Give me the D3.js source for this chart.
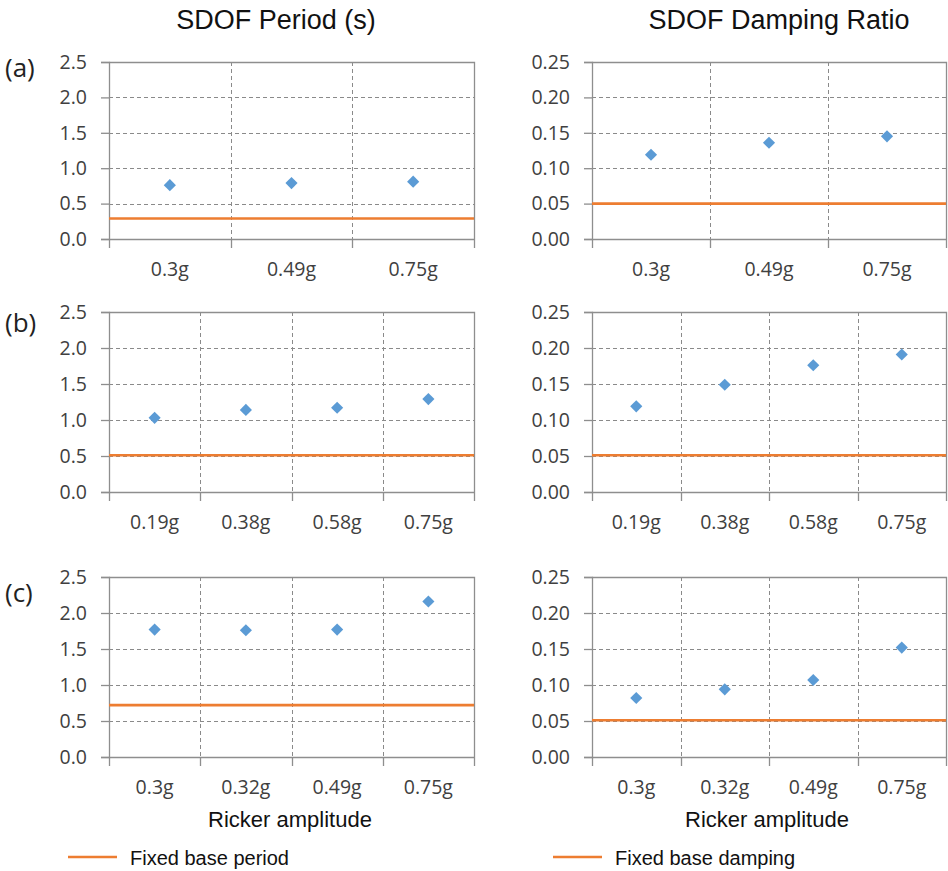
<!DOCTYPE html>
<html><head><meta charset="utf-8">
<script src="https://cdn.jsdelivr.net/npm/d3@7"></script>
<style>body{margin:0;background:#fff}svg{display:block}</style>
</head><body>
<script>
// ---- data ----
const rowLabels = ['(a)', '(b)', '(c)'];
const catsA = ['0.3g', '0.49g', '0.75g'];
const catsB = ['0.19g', '0.38g', '0.58g', '0.75g'];
const catsC = ['0.3g', '0.32g', '0.49g', '0.75g'];
const periodA = [0.76, 0.79, 0.81];
const periodB = [1.03, 1.14, 1.17, 1.29];
const periodC = [1.77, 1.76, 1.77, 2.16];
const dampA = [0.119, 0.136, 0.145];
const dampB = [0.119, 0.149, 0.176, 0.191];
const dampC = [0.082, 0.094, 0.107, 0.152];
const fixedPeriod = [0.29, 0.51, 0.72];
const fixedDamping = [0.050, 0.051, 0.051];
const periodTicks = [0, 0.5, 1.0, 1.5, 2.0, 2.5];
const dampTicks = [0, 0.05, 0.10, 0.15, 0.20, 0.25];
const colTitles = ['SDOF Period (s)', 'SDOF Damping Ratio'];
const xTitle = 'Ricker amplitude';
const legendLabels = ['Fixed base period', 'Fixed base damping'];

// ---- layout ----
const W = 948, H = 871;
const rowsTop = [62, 312, 577], rowsBot = [239, 492, 757];
const colsL = [109, 592], colsR = [474, 946];
const rowLabelY = [67, 322, 592];
const BLUE = '#5B9BD5', ORANGE = '#ED7D31', AXIS = '#8E8E8E', GRID = '#8A8A8A', TXT = '#404040';
const tickFont = '"Open Sans", sans-serif';
const titleFont = '"Liberation Sans", Arial, sans-serif';

const svg = d3.select('body').append('svg').attr('width', W).attr('height', H);

const cats = [catsA, catsB, catsC];
const periods = [periodA, periodB, periodC];
const damps = [dampA, dampB, dampC];

function panel(r, c) {
  const categories = cats[r];
  const vals = c === 0 ? periods[r] : damps[r];
  const fixed = c === 0 ? fixedPeriod[r] : fixedDamping[r];
  const ticks = c === 0 ? periodTicks : dampTicks;
  const fmt = c === 0 ? d3.format('.1f') : d3.format('.2f');
  const x = d3.scaleBand().domain(categories).range([colsL[c], colsR[c]]).paddingInner(0).paddingOuter(0);
  const y = d3.scaleLinear().domain([0, c === 0 ? 2.5 : 0.25]).range([rowsBot[r], rowsTop[r]]);
  const g = svg.append('g');
  const x0 = colsL[c], x1 = colsR[c], y0 = rowsBot[r], y1 = rowsTop[r];

  // horizontal dashed gridlines
  g.selectAll('.hg').data(ticks.filter(t => t > 0 && t < ticks[ticks.length - 1])).enter().append('line')
    .attr('x1', x0).attr('x2', x1).attr('y1', d => Math.round(y(d)) + 0.5).attr('y2', d => Math.round(y(d)) + 0.5)
    .attr('stroke', GRID).attr('stroke-dasharray', '4,3').attr('stroke-width', 1);
  // vertical dashed gridlines at category boundaries
  const bounds = categories.slice(1).map(d => x(d));
  g.selectAll('.vg').data(bounds).enter().append('line')
    .attr('x1', d => Math.round(d) + 0.5).attr('x2', d => Math.round(d) + 0.5).attr('y1', y1).attr('y2', y0)
    .attr('stroke', GRID).attr('stroke-dasharray', '4,3').attr('stroke-width', 1);
  // frame: top and right solid
  g.append('path').attr('d', `M${x0},${Math.round(y1) + 0.5}H${x1 + 0.5}V${y0}`)
    .attr('fill', 'none').attr('stroke', AXIS).attr('stroke-width', 1.3);

  // y axis
  const ya = d3.axisLeft(y).tickValues(ticks).tickFormat(fmt).tickSize(8).tickPadding(14);
  const yg = g.append('g').attr('transform', `translate(${x0},0)`).call(ya);
  yg.select('.domain').attr('stroke', AXIS).attr('stroke-width', 1.3);
  yg.selectAll('.tick line').attr('stroke', AXIS).attr('stroke-width', 1.3);
  yg.selectAll('.tick text').attr('font-family', tickFont).attr('font-size', 19.5).attr('fill', TXT);

  // x axis: boundary ticks
  const xa = g.append('g');
  xa.append('line').attr('x1', x0).attr('x2', x1).attr('y1', y0 + 0.5).attr('y2', y0 + 0.5)
    .attr('stroke', AXIS).attr('stroke-width', 1.3);
  const allB = [x0].concat(bounds).concat([x1]);
  xa.selectAll('.bt').data(allB).enter().append('line')
    .attr('x1', d => Math.round(d) + 0.5).attr('x2', d => Math.round(d) + 0.5).attr('y1', y0).attr('y2', y0 + 9)
    .attr('stroke', AXIS).attr('stroke-width', 1.3);
  xa.selectAll('.cl').data(categories).enter().append('text')
    .attr('x', d => x(d) + x.bandwidth() / 2).attr('y', y0 + 37)
    .attr('text-anchor', 'middle').attr('font-family', tickFont).attr('font-size', 19.5).attr('fill', TXT)
    .text(d => d);

  // fixed base line
  g.append('line').attr('x1', x0).attr('x2', x1).attr('y1', y(fixed)).attr('y2', y(fixed))
    .attr('stroke', ORANGE).attr('stroke-width', 2.6);

  // diamonds
  const sym = d3.symbol(d3.symbolSquare, 74);
  g.selectAll('.pt').data(vals).enter().append('path')
    .attr('d', sym)
    .attr('transform', (d, i) => `translate(${x(categories[i]) + x.bandwidth() / 2},${y(d)}) rotate(45)`)
    .attr('fill', BLUE);
}

for (let r = 0; r < 3; r++) {
  panel(r, 0); panel(r, 1);
  svg.append('text').attr('x', 5).attr('y', rowLabelY[r]).attr('dominant-baseline', 'central')
    .attr('font-family', tickFont).attr('font-size', 26).attr('fill', '#222').text(rowLabels[r]);
}

// column titles
const titleX = [276, 779];
colTitles.forEach((t, i) => {
  svg.append('text').attr('x', titleX[i]).attr('y', 29).attr('text-anchor', 'middle')
    .attr('font-family', titleFont).attr('font-size', 27).attr('fill', '#111').text(t);
});
// x axis titles
const xtX = [290, 767];
xtX.forEach(xx => {
  svg.append('text').attr('x', xx).attr('y', 827).attr('text-anchor', 'middle')
    .attr('font-family', titleFont).attr('font-size', 22).attr('fill', '#111').text(xTitle);
});
// legends
const legX = [68, 553];
legendLabels.forEach((t, i) => {
  svg.append('line').attr('x1', legX[i]).attr('x2', legX[i] + 49).attr('y1', 857).attr('y2', 857)
    .attr('stroke', ORANGE).attr('stroke-width', 2.6);
  svg.append('text').attr('x', legX[i] + 62).attr('y', 865)
    .attr('font-family', titleFont).attr('font-size', 20).attr('fill', '#111').text(t);
});
</script>
</body></html>
